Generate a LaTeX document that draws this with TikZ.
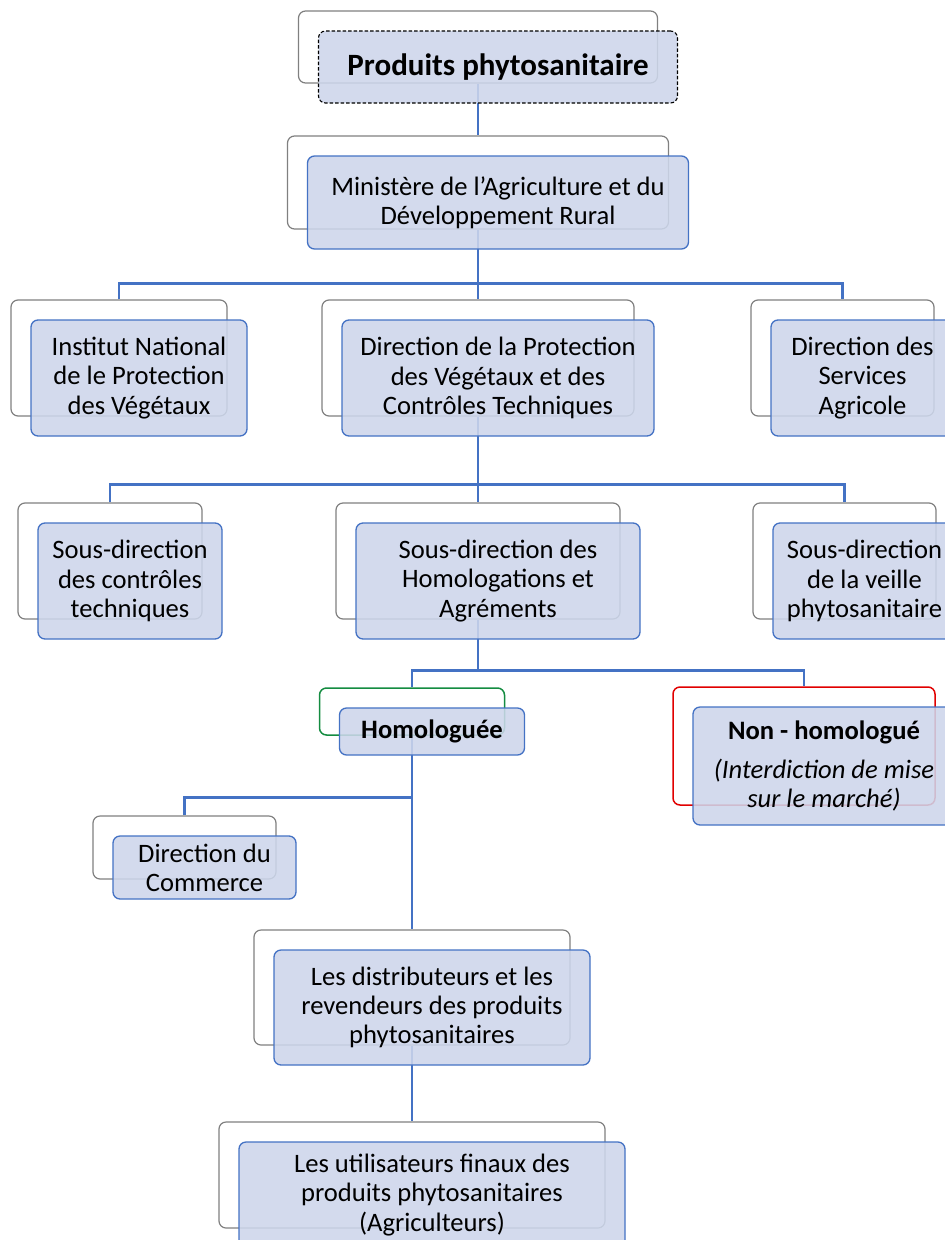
\documentclass[tikz,border=0pt]{standalone}
\usepackage{fontspec}
\setmainfont{Carlito}
\definecolor{linkblue}{RGB}{68,114,196}
\definecolor{boxfill}{RGB}{205,214,235}
\definecolor{backgray}{RGB}{128,128,128}
\definecolor{okgreen}{RGB}{20,140,65}
\definecolor{nored}{RGB}{225,0,0}
\begin{document}
\begin{tikzpicture}[x=1pt, y=-1pt,
    back/.style={rectangle, rounded corners=7pt, draw=backgray, line width=1.2pt,
      fill=white, inner sep=0pt},
    front/.style={rectangle, rounded corners=7pt, draw=linkblue, line width=1.3pt,
      fill=boxfill, fill opacity=0.88, text opacity=1, inner sep=0pt, align=center,
      font=\fontsize{26.6}{29.3}\selectfont},
    link/.style={draw=linkblue, line width=2.6pt},
    shifted/.style={xshift=20pt, yshift=-20pt}]
  \useasboundingbox[fill=white] (0,0) rectangle (945,1240);
  % back boxes
  \node[back, minimum width=359, minimum height=72] (bprod) at (478,47) {};
  \node[back, minimum width=381, minimum height=93] (bmin) at (478,182.5) {};
  \node[back, minimum width=216, minimum height=116] (binpv) at (119,358) {};
  \node[back, minimum width=312, minimum height=116] (bdpvct) at (478,358) {};
  \node[back, minimum width=183, minimum height=116] (bdsa) at (842.5,358) {};
  \node[back, minimum width=184, minimum height=116] (bsdct) at (110,561) {};
  \node[back, minimum width=284, minimum height=116] (bsdha) at (478,561) {};
  \node[back, minimum width=183, minimum height=116] (bsdvp) at (844.5,561) {};
  \node[back, draw=okgreen, line width=1.5pt, minimum width=185, minimum height=47] (bhomol) at (412,711.5) {};
  \node[back, draw=nored, line width=1.5pt, minimum width=262, minimum height=118] (bnonh) at (804,746) {};
  \node[back, minimum width=183, minimum height=63] (bdcom) at (184.5,847.5) {};
  \node[back, minimum width=316, minimum height=115] (bdistr) at (412,987.5) {};
  \node[back, minimum width=386, minimum height=106] (butil) at (412,1175) {};
  % connectors
  \draw[link] (bprod.south) -- (bmin.north);
  \draw[link] (bmin.south) -- (bdpvct.north);
  \draw[link] (binpv.north) -- ++(0,-16) -| (bdsa.north);
  \draw[link] (bdpvct.south) -- (bsdha.north);
  \draw[link] (bsdct.north) -- ++(0,-18) -| (bsdvp.north);
  \draw[link] (bhomol.north) -- ++(0,-17) coordinate (jh) -| (bnonh.north);
  \draw[link] (bsdha.south) -- (bsdha.south |- jh);
  \draw[link] (bhomol.south) -- (bdistr.north);
  \draw[link] (bdcom.north) -- ++(0,-18) -| (bhomol.south);
  \draw[link] (bdistr.south) -- (butil.north);
  % front boxes
  \node[front, draw=black, line width=1.1pt, dash pattern=on 3.5pt off 2pt,
    minimum width=359, minimum height=72, font=\fontsize{31}{34}\selectfont\bfseries]
    (prod) at ([shifted]bprod.center) {Produits phytosanitaire};
  \node[front, minimum width=381, minimum height=93] (min) at ([shifted]bmin.center)
    {Ministère de l’Agriculture et du\\Développement Rural};
  \node[front, minimum width=216, minimum height=116] (inpv) at ([shifted]binpv.center)
    {Institut National\\de le Protection\\des Végétaux};
  \node[front, minimum width=312, minimum height=116] (dpvct) at ([shifted]bdpvct.center)
    {Direction de la Protection\\des Végétaux et des\\Contrôles Techniques};
  \node[front, minimum width=183, minimum height=116] (dsa) at ([shifted]bdsa.center)
    {Direction des\\Services\\Agricole};
  \node[front, minimum width=184, minimum height=116] (sdct) at ([shifted]bsdct.center)
    {Sous-direction\\des contrôles\\techniques};
  \node[front, minimum width=284, minimum height=116] (sdha) at ([shifted]bsdha.center)
    {Sous-direction des\\Homologations et\\Agréments};
  \node[front, minimum width=183, minimum height=116] (sdvp) at ([shifted]bsdvp.center)
    {Sous-direction\\de la veille\\phytosanitaire};
  \node[front, minimum width=185, minimum height=47] (homol) at ([shifted]bhomol.center)
    {\textbf{Homologuée}};
  \node[front, minimum width=262, minimum height=118] (nonh) at ([shifted]bnonh.center)
    {\textbf{Non - homologué}\\[9pt]\textit{(Interdiction de mise}\\\textit{sur le marché)}};
  \node[front, minimum width=183, minimum height=63] (dcom) at ([shifted]bdcom.center)
    {Direction du\\Commerce};
  \node[front, minimum width=316, minimum height=115] (distr) at ([shifted]bdistr.center)
    {Les distributeurs et les\\revendeurs des produits\\phytosanitaires};
  \node[front, minimum width=386, minimum height=106] (util) at ([shifted]butil.center)
    {Les utilisateurs finaux des\\produits phytosanitaires\\(Agriculteurs)};
\end{tikzpicture}
\end{document}
